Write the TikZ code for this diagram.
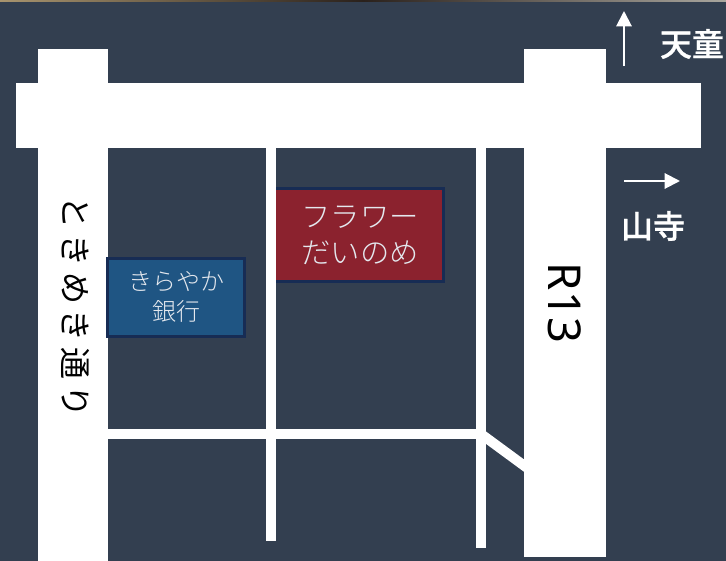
\documentclass[tikz,border=0pt]{standalone}
\usepackage{fontspec}
\usetikzlibrary{arrows.meta}
\newfontfamily\jpfont{Noto Sans CJK JP Medium}[FakeBold=0.8]
\newfontfamily\jplight{Noto Sans CJK JP Light}
\newfontfamily\jpspaced{Noto Sans CJK JP}[LetterSpace=18]
\definecolor{bgnavy}{HTML}{333F50}
\definecolor{bankblue}{HTML}{1F5583}
\definecolor{bankedge}{HTML}{172C54}
\definecolor{shopred}{HTML}{8B222E}
\definecolor{captext}{HTML}{E4E8EE}
\definecolor{topleft}{HTML}{A8946E}
\definecolor{topmid}{HTML}{2A211C}
\definecolor{topright}{HTML}{A9A69E}
\tikzset{
  road/.style={fill=white,draw=none},
  street/.style={draw=white,line width=7.5pt},
  shopbox/.style={draw=bankedge,line width=2.25pt,inner sep=0pt,align=center,text=captext},
  dirarrow/.style={draw=white,line width=1.5pt,-{Triangle[length=11.5pt,width=11.5pt]}},
  dirlabel/.style={text=white,font=\jpfont\fontsize{24pt}{27pt}\selectfont,inner sep=0pt},
}
\begin{document}
\begin{tikzpicture}[x=0.75pt,y=-0.75pt]
\useasboundingbox (0,0) rectangle (726,561);
\fill[bgnavy] (0,0) rectangle (726,561);
\fill[left color=topleft,right color=topmid] (0,0) rectangle (363,1);
\fill[left color=topmid,right color=topright] (363,0) rectangle (726,1);
% shop sits under the street on its left side
\node[shopbox,minimum width=127pt,minimum height=69.75pt,fill=shopred,
  font=\jplight\fontsize{22pt}{27pt}\selectfont] (shop) at (359,235.3) {\hspace*{1.5pt}フラワー\\\hspace*{1.5pt}だいのめ};
% streets
\coordinate (s1t) at (271,140); \coordinate (s1b) at (271,541);
\coordinate (s2t) at (481,140); \coordinate (s2b) at (481,548);
\coordinate (h1l) at (100,434); \coordinate (h1r) at (481,434);
\coordinate (d1e) at (530,470);
\draw[street] (s1t) -- (s1b);
\draw[street] (s2t) -- (s2b);
\draw[street] (h1l) -- (h1r);
\draw[street] (h1r) -- (d1e);
% main roads
\fill[road] (38,49) rectangle (108,561);
\fill[road] (524,49) rectangle (606,557);
\fill[road] (16,83) rectangle (701,148);
% bank
\node[shopbox,minimum width=102.5pt,minimum height=58.5pt,fill=bankblue,
  font=\jplight\fontsize{18pt}{22.5pt}\selectfont] (bank) at (175.8,297.2) {\hspace*{1.5pt}きらやか\\\hspace*{1.5pt}銀行};
% road names
\node[rotate=-90,inner sep=0pt,text=black,font=\jpspaced\fontsize{24pt}{26pt}\selectfont] (tokimeki) at (75,307) {ときめき通り};
\node[rotate=-90,inner sep=0pt,text=black,font=\fontspec{Noto Sans}\fontsize{34pt}{36pt}\selectfont] (r13) at (564.5,303) {R13};
% directions
\coordinate (a1s) at (624,66); \coordinate (a1e) at (624,11);
\coordinate (a2s) at (624,181); \coordinate (a2e) at (680,181);
\draw[dirarrow] (a1s) -- (a1e);
\draw[dirarrow] (a2s) -- (a2e);
\node[dirlabel] (tendo) at (692,44) {天童};
\node[dirlabel] (yamadera) at (653,226) {山寺};
\end{tikzpicture}
\end{document}
